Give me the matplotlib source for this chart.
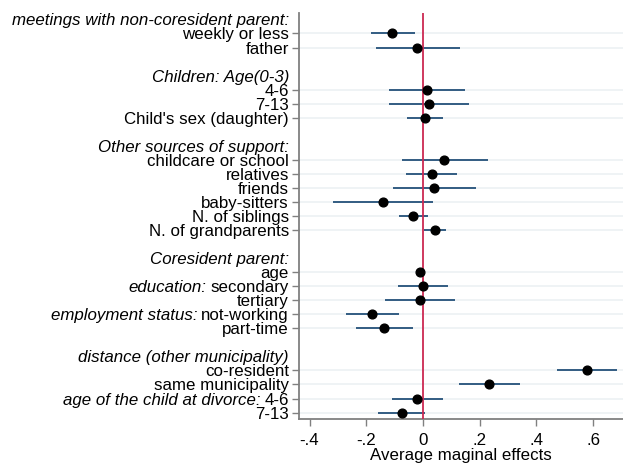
import matplotlib
matplotlib.use('Agg')
import matplotlib.pyplot as plt

plt.rcParams['font.family'] = ['Liberation Sans', 'DejaVu Sans']

# rows (slot index from the top), label parts (italic prefix, regular text)
rows = [0, 1, 4, 5, 6, 9, 10, 11, 12, 13, 14, 17, 18, 19, 20, 21, 24, 25, 26, 27]
italic_prefix = ['', '', '', '', '', '', '', '', '', '', '', '',
                 'education:', '', 'employment status:', '', '', '',
                 'age of the child at divorce:', '']
labels = ['weekly or less', 'father', '4-6', '7-13', "Child's sex (daughter)",
          'childcare or school', 'relatives', 'friends', 'baby-sitters',
          'N. of siblings', 'N. of grandparents', 'age', 'secondary', 'tertiary',
          'not-working', 'part-time', 'co-resident', 'same municipality', '4-6', '7-13']
estimate = [-0.108, -0.021, 0.013, 0.021, 0.006, 0.075, 0.030, 0.039, -0.140,
            -0.034, 0.042, -0.009, -0.001, -0.012, -0.180, -0.136, 0.577, 0.233,
            -0.021, -0.075]
ci_low = [-0.185, -0.166, -0.120, -0.119, -0.058, -0.075, -0.060, -0.107, -0.316,
          -0.085, 0.004, -0.016, -0.088, -0.135, -0.272, -0.237, 0.474, 0.128,
          -0.108, -0.159]
ci_high = [-0.028, 0.129, 0.148, 0.161, 0.069, 0.228, 0.120, 0.187, 0.036,
           0.019, 0.081, -0.002, 0.087, 0.114, -0.086, -0.035, 0.683, 0.342,
           0.069, 0.006]

header_rows = [-1, 3.0, 8, 16, 23]
headers = ['meetings with non-coresident parent:', 'Children: Age(0-3)',
           'Other sources of support:', 'Coresident parent:',
           'distance (other municipality)']

xticks = [-0.4, -0.2, 0, 0.2, 0.4, 0.6]
xticklabels = ['-.4', '-.2', '0', '.2', '.4', '.6']

fig = plt.figure(figsize=(6.23, 4.63), dpi=100)
ax = fig.add_axes([0.48, 0.095, 0.52, 0.877])

navy = '#24517a'
red = '#cc2952'
grid = '#ecf1f3'
spine = '#808080'
fs = 12.2

for y in rows:
    ax.axhline(y, color=grid, lw=1.2, zorder=0)

for y, lo, hi in zip(rows, ci_low, ci_high):
    ax.plot([lo, hi], [y, y], color=navy, lw=1.3, solid_capstyle='butt', zorder=2)
ax.axvline(0, color=red, lw=1.3, zorder=3)
ax.plot(estimate, rows, 'o', color='black', ms=6.3, zorder=4)

ax.set_xlim(-0.437, 0.705)
ax.set_ylim(27.46, -1.46)

ax.set_yticks(rows)
ax.set_yticklabels([''] * len(rows))
ax.tick_params(axis='y', length=5, width=1, color=spine)
ax.set_xticks(xticks)
ax.set_xticklabels(xticklabels, fontsize=fs)
ax.tick_params(axis='x', length=5, width=1, color=spine, pad=5)
ax.set_xlabel('Average maginal effects', fontsize=fs, labelpad=0)

for s in ['top', 'right']:
    ax.spines[s].set_visible(False)
for s in ['left', 'bottom']:
    ax.spines[s].set_color(spine)
    ax.spines[s].set_linewidth(1.3)

trans = ax.get_yaxis_transform()
xlab = -0.031
for y, pre, lab in zip(rows, italic_prefix, labels):
    t = ax.text(xlab, y, lab, transform=trans, ha='right', va='center_baseline',
                fontsize=fs)
    if pre:
        ax.annotate(pre, xy=(0, 0.5), xycoords=t, xytext=(-3, 0),
                    textcoords='offset points', ha='right', va='center',
                    fontsize=fs, style='italic')
for y, h in zip(header_rows, headers):
    ax.text(xlab, y, h, transform=trans, ha='right', va='center_baseline',
            fontsize=fs, style='italic')

fig.savefig('out.png', dpi=100)
